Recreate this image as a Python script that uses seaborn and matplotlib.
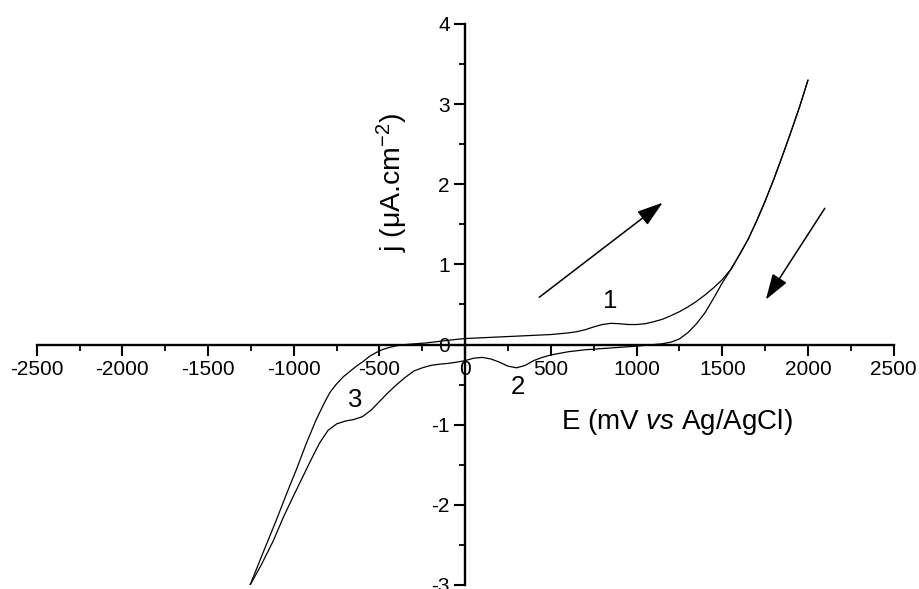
import pandas as pd
import seaborn as sns
import matplotlib.pyplot as plt
from matplotlib.ticker import MultipleLocator

# forward scan (outer left branch, upper branch, up to the turning point)
fwd_E = [-1255, -1180, -1100, -1040, -985, -930, -870, -820, -790, -750,
         -710, -670, -635, -595, -560, -520, -480, -440, -400, -350,
         -290, -230, -170, -110, -50, 0, 100, 200, 300, 400,
         500, 600, 650, 700, 750, 800, 850, 900, 950, 1000,
         1050, 1100, 1150, 1200, 1250, 1300, 1350, 1400, 1450, 1500,
         1550, 1600, 1650, 1700, 1750, 1800, 1850, 1900, 1950, 2000]
fwd_j = [-3.0, -2.6, -2.18, -1.85, -1.56, -1.25, -0.94, -0.72, -0.60, -0.49,
         -0.40, -0.33, -0.27, -0.21, -0.15, -0.10, -0.06, -0.035, -0.015, 0.0,
         0.01, 0.02, 0.035, 0.05, 0.065, 0.075, 0.085, 0.095, 0.105, 0.115,
         0.125, 0.145, 0.16, 0.185, 0.22, 0.25, 0.265, 0.26, 0.25, 0.25,
         0.26, 0.285, 0.315, 0.36, 0.41, 0.47, 0.54, 0.62, 0.71, 0.81,
         0.94, 1.12, 1.31, 1.54, 1.79, 2.06, 2.35, 2.65, 2.96, 3.3]

# reverse scan (from the turning point back to the cathodic limit)
rev_E = [2000, 1950, 1900, 1850, 1800, 1750, 1700, 1650, 1600, 1560,
         1500, 1450, 1400, 1350, 1300, 1250, 1200, 1150, 1100, 1050,
         1000, 900, 800, 700, 600, 500, 450, 400, 350, 300,
         250, 200, 150, 100, 50, 0, -50, -100, -150, -200,
         -250, -300, -350, -400, -450, -500, -550, -600, -650, -700,
         -750, -800, -850, -900, -950, -1000, -1060, -1120, -1190, -1255]
rev_j = [3.3, 2.96, 2.65, 2.35, 2.06, 1.79, 1.54, 1.31, 1.12, 0.97,
         0.77, 0.58, 0.40, 0.26, 0.15, 0.07, 0.03, 0.01, 0.0, -0.01,
         -0.02, -0.035, -0.05, -0.065, -0.09, -0.13, -0.16, -0.2, -0.26, -0.29,
         -0.27, -0.22, -0.18, -0.16, -0.17, -0.20, -0.22, -0.235, -0.245, -0.26,
         -0.29, -0.33, -0.41, -0.50, -0.60, -0.71, -0.82, -0.90, -0.935, -0.955,
         -0.99, -1.07, -1.23, -1.44, -1.66, -1.88, -2.15, -2.45, -2.75, -3.0]

# peak labels
peak_names = ['1', '2', '3']
peak_E = [844, 308, -643]
peak_j = [0.54, -0.525, -0.69]

# scan direction arrows (tail -> tip)
arrow_tail = [(432, 0.59), (2098, 1.70)]
arrow_tip = [(1152, 1.77), (1754, 0.56)]

df = pd.concat([
    pd.DataFrame({'E': fwd_E, 'j': fwd_j, 'scan': 'forward'}),
    pd.DataFrame({'E': rev_E, 'j': rev_j, 'scan': 'reverse'}),
])

sns.set_style('ticks')
plt.rcParams['font.family'] = ['Liberation Sans', 'DejaVu Sans']
plt.rcParams['mathtext.fontset'] = 'custom'
plt.rcParams['mathtext.rm'] = 'Liberation Sans'
plt.rcParams['mathtext.it'] = 'Liberation Sans:italic'
plt.rcParams['axes.unicode_minus'] = False
# plain black everywhere, like the original figure
for key in ['text.color', 'axes.edgecolor', 'axes.labelcolor',
            'xtick.color', 'ytick.color']:
    plt.rcParams[key] = 'black'

fig = plt.figure(figsize=(9.2, 5.89), dpi=100)
ax = fig.add_axes([0.0399, 0.0068, 0.9315, 0.9525])

for name, part in df.groupby('scan'):
    sns.lineplot(data=part, x='E', y='j', sort=False, estimator=None,
                 color='black', linewidth=0.9, ax=ax)

ax.set_xlim(-2500, 2500)
ax.set_ylim(-3, 4)

# axes crossing at the origin
ax.spines['left'].set_position('zero')
ax.spines['bottom'].set_position('zero')
ax.spines['top'].set_visible(False)
ax.spines['right'].set_visible(False)
for s in ['left', 'bottom']:
    ax.spines[s].set_linewidth(1.7)

ax.xaxis.set_major_locator(MultipleLocator(500))
ax.xaxis.set_minor_locator(MultipleLocator(250))
ax.yaxis.set_major_locator(MultipleLocator(1))
ax.yaxis.set_minor_locator(MultipleLocator(0.5))
ax.tick_params(which='major', direction='out', length=8, width=1.5,
               labelsize=15, pad=3)
ax.tick_params(which='minor', direction='out', length=4.5, width=1.3)
ax.set_xlabel('')
ax.set_ylabel('')

ax.text(0.747, 0.29, 'E (mV $\\mathit{vs}$ Ag/AgCl)', transform=ax.transAxes,
        ha='center', va='center', fontsize=20)
ax.text(0.4146, 0.717, 'j (\u03bcA.cm$^{-2}$)', transform=ax.transAxes,
        ha='center', va='center', rotation=90, fontsize=20.5)

for name, e, j in zip(peak_names, peak_E, peak_j):
    ax.text(e, j, name, ha='center', va='center', fontsize=18.5)

for tail, tip in zip(arrow_tail, arrow_tip):
    ax.annotate('', xy=tip, xytext=tail,
                arrowprops=dict(arrowstyle='-|>,head_length=0.8,head_width=0.26',
                                color='black', lw=1.1, shrinkA=0, shrinkB=0,
                                mutation_scale=20))

plt.savefig('out.png', dpi=100)
